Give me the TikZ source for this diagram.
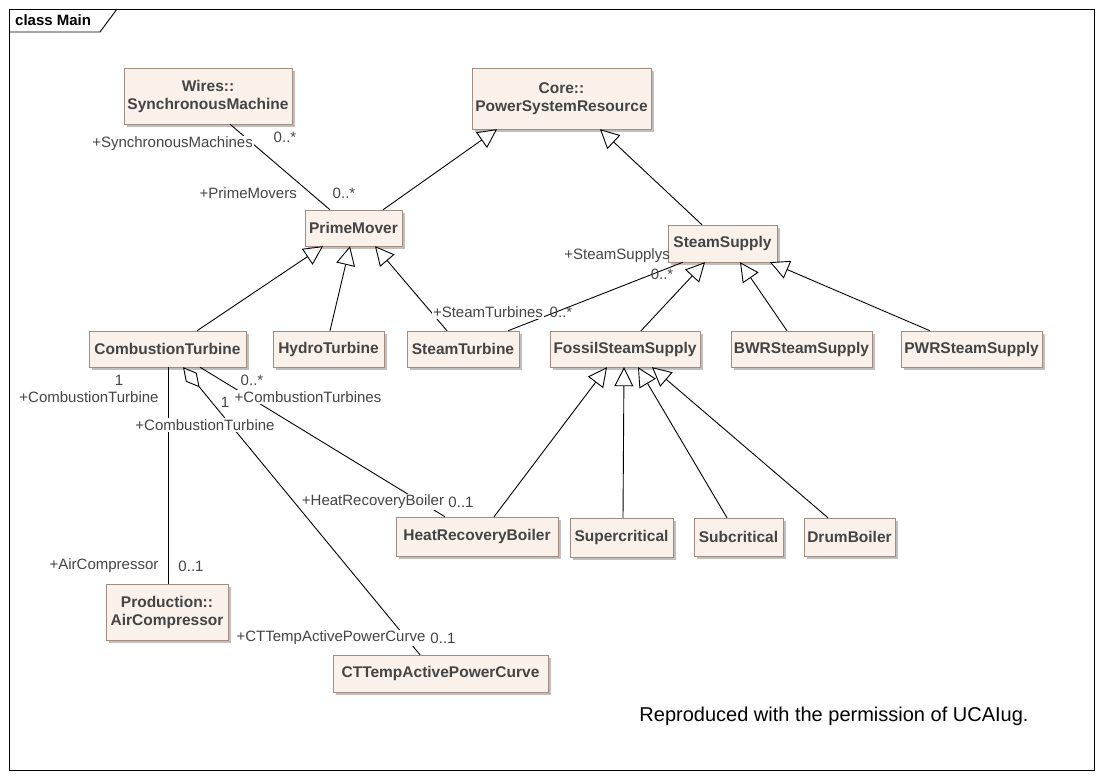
\documentclass[tikz,border=0pt]{standalone}
\usepackage{fontspec}
\setmainfont{Liberation Sans}
\usetikzlibrary{positioning,arrows.meta,calc,shadows}
\definecolor{boxfill}{RGB}{250,241,235}
\definecolor{boxline}{RGB}{160,140,128}
\definecolor{txt}{RGB}{68,68,68}
\tikzset{
    x=1pt, y=-1pt,
    klass/.style = {
        draw=boxline,
        fill=boxfill,
        shape=rectangle,
        minimum height=36pt,
        inner sep=2pt,
        text=txt,
        font=\fontsize{15.5}{18}\selectfont\bfseries,
        align=center,
        drop shadow={shadow xshift=3pt, shadow yshift=-3pt, fill=black!25, opacity=1}
    },
    role/.style = {
        text=txt,
        inner sep=1pt,
        font=\fontsize{15}{17}\selectfont
    },
    gen/.style = {
        draw, line width=0.9pt,
        -{Triangle[open, fill=white, length=19pt, width=19pt]}
    },
    assoc/.style = {
        draw, line width=0.9pt
    },
    aggr/.style = {
        draw, line width=0.9pt,
        {Diamond[open, fill=white, length=26pt, width=14pt]}-
    },
}
\begin{document}
\begin{tikzpicture}
            \useasboundingbox (0,0) rectangle (1103,778);
            \draw[line width=0.9pt] (9,9) rectangle (1094,770);
            \draw[line width=0.9pt] (9,32) -- (100,32) -- (117,9);
            \node[anchor=west, inner sep=0pt, font=\fontsize{15}{17}\selectfont\bfseries] (frame) at (15,20) {class Main};

            \node[klass, minimum width=168pt, minimum height=56pt] (sm) at (208,96) {Wires::\\SynchronousMachine};
            \node[klass, minimum width=179pt, minimum height=61pt] (psr) at (561.5,98.5) {Core::\\PowerSystemResource};
            \node[klass, minimum width=97pt] (pm) at (353.5,228) {PrimeMover};
            \node[klass, minimum width=109pt, minimum height=37pt] (ss) at (722.5,243.5) {SteamSupply};
            \node[klass, minimum width=157pt] (ct) at (167.5,349) {CombustionTurbine};
            \node[klass, minimum width=111pt] (hy) at (328.5,349) {HydroTurbine};
            \node[klass, minimum width=112pt] (st) at (463,349) {SteamTurbine};
            \node[klass, minimum width=150pt] (fs) at (625,349) {FossilSteamSupply};
            \node[klass, minimum width=141pt] (bwr) at (801.5,349) {BWRSteamSupply};
            \node[klass, minimum width=141pt] (pwr) at (971.5,349) {PWRSteamSupply};
            \node[klass, minimum width=162pt, minimum height=39pt] (hrb) at (477,536.5) {HeatRecoveryBoiler};
            \node[klass, minimum width=103pt, minimum height=39pt] (sc) at (621.5,537.5) {Supercritical};
            \node[klass, minimum width=89pt, minimum height=38pt] (sb) at (738.5,537) {Subcritical};
            \node[klass, minimum width=91pt, minimum height=38pt] (db) at (849.5,537) {DrumBoiler};
            \node[klass, minimum width=122pt, minimum height=56pt] (ac) at (167,612) {Production::\\AirCompressor};
            \node[klass, minimum width=215pt, minimum height=37pt] (ctc) at (440.5,673.5) {CTTempActivePowerCurve};

            % generalizations
            \path[gen] ([xshift=29.5pt]pm.north) -- ([xshift=-64.5pt]psr.south);
            \path[gen] ([xshift=-20.5pt]ss.north) -- ([xshift=38.5pt]psr.south);
            \path[gen] ([xshift=29.5pt]ct.north) -- ([xshift=-30.5pt]pm.south);
            \path[gen] ([xshift=1.5pt]hy.north) -- ([xshift=-3.5pt]pm.south);
            \path[gen] ([xshift=-16pt]st.north) -- ([xshift=21.5pt]pm.south);
            \path[gen] ([xshift=16pt]fs.north) -- ([xshift=-17.5pt]ss.south);
            \path[gen] ([xshift=-14.5pt]bwr.north) -- ([xshift=17.5pt]ss.south);
            \path[gen] ([xshift=-41.5pt]pwr.north) -- ([xshift=47.5pt]ss.south);
            \path[gen] ([xshift=17pt]hrb.north) -- ([xshift=-18pt]fs.south);
            \path[gen] ([xshift=1.5pt]sc.north) -- ([xshift=-1pt]fs.south);
            \path[gen] ([xshift=-11.5pt]sb.north) -- ([xshift=13pt]fs.south);
            \path[gen] ([xshift=-21.5pt]db.north) -- ([xshift=27pt]fs.south);

            % associations
            \path[assoc] ([xshift=22pt]sm.south) -- ([xshift=-23.5pt]pm.north);
            \path[assoc] ([xshift=45pt]st.north) -- ([xshift=-39.5pt]ss.south);
            \path[assoc] ([xshift=0.5pt]ct.south) -- ([xshift=1pt]ac.north);
            \path[assoc] ([xshift=32.5pt]ct.south) -- ([xshift=-32pt]hrb.north);
            \path[aggr] ([xshift=15.5pt]ct.south) -- ([xshift=-20.5pt]ctc.north);

            % role names and multiplicities
            \node[role, fill=white, anchor=east] (r1) at (254,144) {+SynchronousMachines};
            \node[role] (m1) at (285,137) {0..*};
            \node[role, anchor=east] (r2) at (298,193) {+PrimeMovers};
            \node[role] (m2) at (344,193) {0..*};
            \node[role, fill=white] (r3) at (488,312) {+SteamTurbines};
            \node[role] (m3) at (561,312) {0..*};
            \node[role, anchor=east] (r4) at (671,256) {+SteamSupplys};
            \node[role] (m4) at (662,274) {0..*};
            \node[role] (m5) at (119,380) {1};
            \node[role] (r5) at (89,397) {+CombustionTurbine};
            \node[role] (m6) at (252,380) {0..*};
            \node[role, fill=white] (r6) at (308,397) {+CombustionTurbines};
            \node[role] (m7) at (225,402) {1};
            \node[role, fill=white] (r7) at (205,425) {+CombustionTurbine};
            \node[role, fill=white] (r8) at (373,502) {+HeatRecoveryBoiler};
            \node[role] (m8) at (461,502) {0..1};
            \node[role] (r9) at (104,566) {+AirCompressor};
            \node[role] (m9) at (191,566) {0..1};
            \node[role, fill=white] (r10) at (331,638) {+CTTempActivePowerCurve};
            \node[role] (m10) at (443,638) {0..1};

            \node[font=\fontsize{20}{24}\selectfont] (note) at (834,716) {Reproduced with the permission of UCAIug.};
\end{tikzpicture}
\end{document}
